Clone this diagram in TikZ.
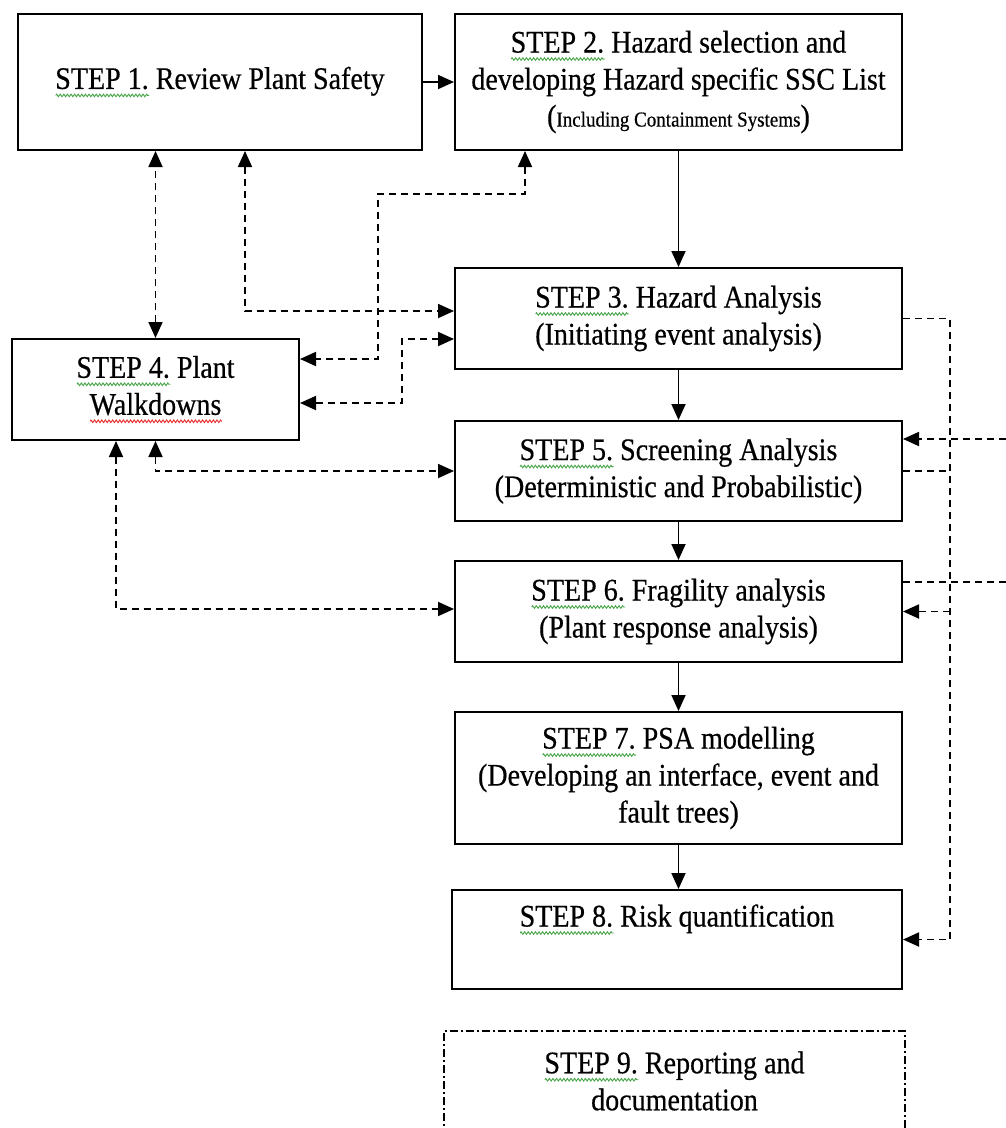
\documentclass[tikz,border=0pt]{standalone}
\usepackage{fontspec}
\setmainfont[FakeStretch=0.893, FakeBold=0.5]{Liberation Serif}
\usetikzlibrary{arrows.meta,decorations.pathmorphing}

\definecolor{gramgreen}{RGB}{70,165,70}
\definecolor{spellred}{RGB}{230,40,40}

% coloured wavy underlines (grammar / spelling marks)
\newsavebox\wavebox
\newlength\wavelen
\newcommand\wavy[2]{%
  \sbox\wavebox{#2}\setlength\wavelen{\wd\wavebox}%
  \leavevmode\rlap{\tikz[baseline=0pt]\draw[#1, line width=0.9pt, solid,
      decorate, decoration={zigzag, amplitude=1.3pt, segment length=3.6pt}]
      (0pt,-6.5pt) -- (\wavelen,-6.5pt);}%
  \usebox\wavebox}
\newcommand\gwave[1]{\wavy{gramgreen}{#1}}
\newcommand\rwave[1]{\wavy{spellred}{#1}}

\tikzset{
  stepbox/.style={draw, line width=2pt, inner sep=0pt, align=center,
    font=\fontsize{31.4}{37}\selectfont},
  optbox/.style={stepbox, line width=1.6pt,
    dash pattern=on 8pt off 3pt on 2pt off 3pt},
  >={Triangle[length=16pt,width=14pt]},
  flow/.style={line width=1.8pt, ->},
  dar/.style={line width=1.8pt, dash pattern=on 7pt off 5pt}
}

\begin{document}
\begin{tikzpicture}[x=1pt, y=-1pt]
\fill[white] (0,0) rectangle (1006,1128);
\path[use as bounding box] (0,0) rectangle (1006,1128);

% process steps
\node[stepbox, minimum width=404pt, minimum height=136pt] (b1) at (220,82)
  {\gwave{STEP 1.} Review Plant Safety};
\node[stepbox, minimum width=447pt, minimum height=136pt] (b2) at (678.5,82)
  {\gwave{STEP 2.} Hazard selection and\\
   developing Hazard specific SSC List\\
   ({\fontsize{21.3}{21.3}\selectfont Including Containment Systems})};
\node[stepbox, minimum width=447pt, minimum height=101pt] (b3) at (678.5,318.5)
  {\gwave{STEP 3.} Hazard Analysis\\ (Initiating event analysis)};
\node[stepbox, minimum width=287pt, minimum height=101pt] (b4) at (155.5,389.5)
  {\gwave{STEP 4.} Plant\\ \rwave{Walkdowns}};
\node[stepbox, minimum width=447pt, minimum height=100pt] (b5) at (678.5,471)
  {\gwave{STEP 5.} Screening Analysis\\ (Deterministic and Probabilistic)};
\node[stepbox, minimum width=447pt, minimum height=101pt] (b6) at (678.5,611.5)
  {\gwave{STEP 6.} Fragility analysis\\ (Plant response analysis)};
\node[stepbox, minimum width=447pt, minimum height=132pt] (b7) at (678.5,778)
  {\gwave{STEP 7.} PSA modelling\\ (Developing an interface, event and\\ fault trees)};
\node[stepbox, minimum width=450pt, minimum height=99pt] (b8) at (677,939.5)
  {\gwave{STEP 8.} Risk quantification\\ \strut};
\node[optbox, minimum width=461pt, minimum height=100pt] (b9) at (674.5,1081)
  {\gwave{STEP 9.} Reporting and\\ documentation};

% main sequence
\draw[flow] (b1.east) -- (b2.west);
\draw[flow] (b2.south) -- (b3.north);
\draw[flow] (b3.south) -- (b5.north);
\draw[flow] (b5.south) -- (b6.north);
\draw[flow] (b6.south) -- (b7.north);
\draw[flow] (b7.south) -- (b7.south |- b8.north);

% walkdown feedback links
\draw[dar, <->] (b4.north) -- (b4.north |- b1.south);
\draw[dar, <->] ([xshift=25pt]b1.south) |- ([yshift=7.5pt]b3.west);
\draw[dar, <->] ([xshift=-153.5pt]b2.south) |- (378,194) |- ([yshift=30.5pt]b4.east);
\draw[dar, <->] ([yshift=-13.5pt]b4.east) -| (402,339) -- ([yshift=-20.5pt]b3.west);
\draw[dar, <->] (b4.south) |- (b5.west);
\draw[dar, <->] ([xshift=-39.5pt]b4.south) |- ([yshift=2.5pt]b6.west);

% right-hand return links
\coordinate (edgeA) at (1006,439);
\coordinate (edgeB) at (1006,582);
\draw[dar, ->] (b3.east) -| ([xshift=47pt]b8.east) -- (b8.east);
\draw[dar] (b5.east) -- ([xshift=47pt]b5.east);
\draw[dar, ->] (edgeA) -- ([yshift=32pt]b5.east);
\draw[dar] ([yshift=29.5pt]b6.east) -- (edgeB);
\draw[dar, ->] ([xshift=47pt]b6.east) -- (b6.east);
\end{tikzpicture}
\end{document}
